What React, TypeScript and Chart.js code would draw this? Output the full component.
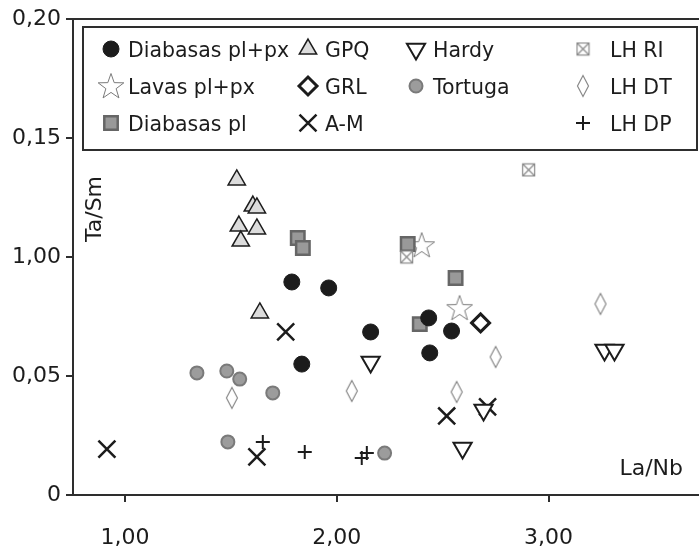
import React, { useEffect, useRef } from 'react';
import { Chart, registerables } from 'chart.js';
import { drawPoint } from 'chart.js/helpers';

Chart.register(...registerables);

const FONT = '"DejaVu Sans", sans-serif';
const INK = '#1c1c1c';
const AXIS = '#2e2e2e';

// Axis ticks and their printed labels
const xTickValues = [1, 2, 3];
const xTickLabels = ['1,00', '2,00', '3,00'];
const yTickValues = [0, 0.05, 0.1, 0.15, 0.2];
const yTickLabels = ['0', '0,05', '1,00', '0,15', '0,20'];

const xTitle = 'La/Nb';
const yTitle = 'Ta/Sm';

// Series values as [La/Nb, Ta/Sm]
const diabasasPlPx = [
  [1.788, 0.0895], [1.962, 0.087], [1.835, 0.055], [2.16, 0.0685],
  [2.434, 0.0744], [2.439, 0.0597], [2.542, 0.0689],
];
const lavasPlPx = [[2.401, 0.105], [2.58, 0.0786]];
const diabasasPl = [
  [1.816, 0.108], [1.84, 0.1038], [2.335, 0.1055], [2.561, 0.0912], [2.392, 0.0718],
];
const gpq = [
  [1.528, 0.1324], [1.604, 0.1214], [1.623, 0.1206], [1.538, 0.113],
  [1.623, 0.1118], [1.547, 0.1067], [1.637, 0.0765],
];
const grl = [[2.679, 0.0723]];
const aM = [[0.915, 0.0193], [1.759, 0.0685], [1.623, 0.016], [2.519, 0.0332], [2.712, 0.037]];
const hardy = [[2.16, 0.0559], [2.693, 0.0357], [2.594, 0.0197], [3.264, 0.0609], [3.311, 0.0609]];
const tortuga = [
  [1.34, 0.0513], [1.481, 0.0521], [1.542, 0.0487], [1.698, 0.0429], [1.486, 0.0223], [2.226, 0.0176],
];
const lhRI = [[2.33, 0.1], [2.906, 0.1366]];
const lhDT = [[1.505, 0.0408], [2.071, 0.0437], [2.566, 0.0433], [2.75, 0.058], [3.245, 0.0803]];
const lhDP = [[1.651, 0.0223], [1.849, 0.0181], [2.142, 0.0176], [2.118, 0.0155]];

// Legend text, column by column
const legendColumns = [
  ['Diabasas pl+px', 'Lavas pl+px', 'Diabasas pl'],
  ['GPQ', 'GRL', 'A-M'],
  ['Hardy', 'Tortuga'],
  ['LH RI', 'LH DT', 'LH DP'],
];

function makeCanvas(w: number, h: number, draw: (c: CanvasRenderingContext2D) => void) {
  const cv = document.createElement('canvas');
  cv.width = w;
  cv.height = h;
  const c = cv.getContext('2d')!;
  draw(c);
  return cv;
}

function starMarker() {
  return makeCanvas(30, 28, (c) => {
    const cx = 15, cy = 15, R = 13.5, r = 5.4;
    c.beginPath();
    for (let i = 0; i < 10; i++) {
      const a = -Math.PI / 2 + (i * Math.PI) / 5;
      const rr = i % 2 === 0 ? R : r;
      const px = cx + Math.cos(a) * rr, py = cy + Math.sin(a) * rr;
      if (i === 0) c.moveTo(px, py); else c.lineTo(px, py);
    }
    c.closePath();
    c.fillStyle = '#ffffff';
    c.fill();
    c.strokeStyle = '#7a7a7a';
    c.lineWidth = 1;
    c.stroke();
  });
}

function boxCrossMarker() {
  return makeCanvas(15, 15, (c) => {
    c.fillStyle = '#ffffff';
    c.fillRect(1.5, 1.5, 12, 12);
    c.strokeStyle = '#8a8a8a';
    c.lineWidth = 1.2;
    c.strokeRect(1.5, 1.5, 12, 12);
    c.beginPath();
    c.moveTo(1.5, 1.5); c.lineTo(13.5, 13.5);
    c.moveTo(13.5, 1.5); c.lineTo(1.5, 13.5);
    c.stroke();
  });
}

function thinDiamondMarker() {
  return makeCanvas(14, 24, (c) => {
    c.beginPath();
    c.moveTo(7, 1.5); c.lineTo(12.5, 12); c.lineTo(7, 22.5); c.lineTo(1.5, 12);
    c.closePath();
    c.fillStyle = '#ffffff';
    c.fill();
    c.strokeStyle = '#8a8a8a';
    c.lineWidth = 1.2;
    c.stroke();
  });
}

const toXY = (pts: number[][]) => pts.map(([x, y]) => ({ x, y }));

export default function App() {
  const ref = useRef<HTMLCanvasElement>(null);

  useEffect(() => {
    document.body.style.margin = '0';
    const canvas = ref.current!;
    const star = starMarker();
    const boxCross = boxCrossMarker();
    const thinDiamond = thinDiamondMarker();

    const datasets: any[] = [
      { label: 'LH RI', data: toXY(lhRI), pointStyle: boxCross, pointRadius: 7, backgroundColor: '#fff', borderColor: '#8a8a8a', borderWidth: 1 },
      { label: 'LH DT', data: toXY(lhDT), pointStyle: thinDiamond, pointRadius: 7, backgroundColor: '#fff', borderColor: '#8a8a8a', borderWidth: 1 },
      { label: 'Hardy', data: toXY(hardy), pointStyle: 'triangle', pointRotation: 180, pointRadius: 10.5, backgroundColor: '#ffffff', borderColor: INK, borderWidth: 2 },
      { label: 'Tortuga', data: toXY(tortuga), pointStyle: 'circle', pointRadius: 6.5, backgroundColor: '#9c9c9c', borderColor: '#7a7a7a', borderWidth: 2 },
      { label: 'GPQ', data: toXY(gpq), pointStyle: 'triangle', pointRadius: 10, backgroundColor: '#dcdcdc', borderColor: INK, borderWidth: 1.5 },
      { label: 'Diabasas pl+px', data: toXY(diabasasPlPx), pointStyle: 'circle', pointRadius: 8, backgroundColor: INK, borderColor: INK, borderWidth: 1 },
      { label: 'Diabasas pl', data: toXY(diabasasPl), pointStyle: 'rect', pointRadius: 9.5, backgroundColor: '#999999', borderColor: '#666666', borderWidth: 2.5 },
      { label: 'Lavas pl+px', data: toXY(lavasPlPx), pointStyle: star, pointRadius: 10, backgroundColor: '#fff', borderColor: '#7a7a7a', borderWidth: 1 },
      { label: 'GRL', data: toXY(grl), pointStyle: 'rectRot', pointRadius: 9, backgroundColor: '#ffffff', borderColor: INK, borderWidth: 3 },
      { label: 'A-M', data: toXY(aM), pointStyle: 'crossRot', pointRadius: 12, backgroundColor: INK, borderColor: INK, borderWidth: 2.5 },
      { label: 'LH DP', data: toXY(lhDP), pointStyle: 'cross', pointRadius: 7, backgroundColor: INK, borderColor: INK, borderWidth: 2 },
    ];
    datasets.forEach((d) => {
      d.pointBackgroundColor = d.backgroundColor;
      d.pointBorderColor = d.borderColor;
      d.pointBorderWidth = d.borderWidth;
      d.pointHoverRadius = d.pointRadius;
      d.showLine = false;
    });

    const extras = {
      id: 'extras',
      afterDraw(chart: any) {
        const { ctx, chartArea } = chart;
        ctx.save();
        // top frame line
        ctx.strokeStyle = AXIS;
        ctx.lineWidth = 2;
        ctx.beginPath();
        ctx.moveTo(chartArea.left, chartArea.top);
        ctx.lineTo(chartArea.right, chartArea.top);
        ctx.stroke();

        // axis titles inside the plot
        ctx.fillStyle = INK;
        ctx.font = `22px ${FONT}`;
        ctx.textBaseline = 'alphabetic';
        ctx.textAlign = 'right';
        ctx.fillText(xTitle, 683, 475);
        ctx.save();
        ctx.translate(101, 209);
        ctx.rotate(-Math.PI / 2);
        ctx.textAlign = 'center';
        ctx.fillText(yTitle, 0, 0);
        ctx.restore();

        // legend box
        ctx.fillStyle = '#ffffff';
        ctx.fillRect(83, 27, 614, 123);
        ctx.strokeStyle = AXIS;
        ctx.lineWidth = 2;
        ctx.strokeRect(83, 27, 614, 123);

        const markerX = [111, 308, 416, 583];
        const textX = [128, 325, 433, 610];
        const rowY = [49, 86, 123];
        ctx.font = `20.5px ${FONT}`;
        ctx.textAlign = 'left';
        legendColumns.forEach((col, ci) => {
          col.forEach((label, ri) => {
            const ds = chart.data.datasets.find((d: any) => d.label === label);
            ctx.save();
            ctx.fillStyle = ds.backgroundColor;
            ctx.strokeStyle = ds.borderColor;
            ctx.lineWidth = ds.borderWidth;
            drawPoint(ctx, {
              pointStyle: ds.pointStyle,
              radius: ds.pointRadius,
              rotation: ds.pointRotation || 0,
              borderWidth: ds.borderWidth,
            } as any, markerX[ci], rowY[ri]);
            ctx.restore();
            ctx.fillStyle = INK;
            ctx.fillText(label, textX[ci], rowY[ri] + 8);
          });
        });
        ctx.restore();
      },
    };

    const chart = new Chart(canvas, {
      type: 'scatter',
      data: { datasets },
      options: {
        animation: false,
        responsive: false,
        devicePixelRatio: 1,
        layout: { autoPadding: false, padding: { top: 19, right: 0, bottom: 0, left: 0 } },
        plugins: { legend: { display: false }, tooltip: { enabled: false } },
        scales: {
          x: {
            type: 'linear',
            min: 0.755,
            max: 3.71,
            afterBuildTicks: (s: any) => { s.ticks = xTickValues.map((value) => ({ value })); },
            afterFit: (s: any) => { s.height = 55; },
            ticks: {
              callback: (_v: any, i: number) => xTickLabels[i],
              font: { family: FONT, size: 22 },
              color: INK,
              padding: 23,
              maxRotation: 0,
              autoSkip: false,
            },
            grid: { drawOnChartArea: false, drawTicks: true, tickLength: 7, color: AXIS, lineWidth: 2 },
            border: { color: AXIS, width: 2 },
          },
          y: {
            type: 'linear',
            min: 0,
            max: 0.2,
            afterBuildTicks: (s: any) => { s.ticks = yTickValues.map((value) => ({ value })); },
            afterFit: (s: any) => { s.width = 73; },
            ticks: {
              callback: (_v: any, i: number) => yTickLabels[i],
              font: { family: FONT, size: 22 },
              color: INK,
              padding: 5,
              autoSkip: false,
            },
            grid: { drawOnChartArea: false, drawTicks: true, tickLength: 7, color: AXIS, lineWidth: 2 },
            border: { color: AXIS, width: 2 },
          },
        },
      },
      plugins: [extras],
    } as any);

    return () => chart.destroy();
  }, []);

  return (
    <canvas ref={ref} width={699} height={550} style={{ display: 'block', width: 699, height: 550 }} />
  );
}
